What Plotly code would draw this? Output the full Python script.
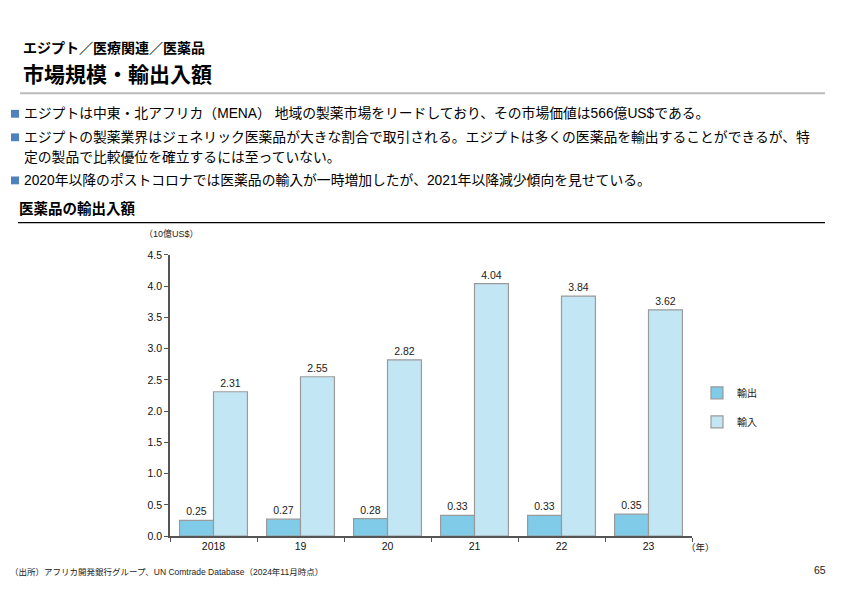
import plotly.graph_objects as go

years = ["2018", "19", "20", "21", "22", "23"]
exports = [0.25, 0.27, 0.28, 0.33, 0.33, 0.35]
imports = [2.31, 2.55, 2.82, 4.04, 3.84, 3.62]
y_ticks = [0.0, 0.5, 1.0, 1.5, 2.0, 2.5, 3.0, 3.5, 4.0, 4.5]

W, H = 842, 595
JP = "Liberation Sans, Noto Sans CJK JP"


def px(x):
    return x / W


def py(y):
    return 1 - y / H


fig = go.Figure()
fig.add_trace(go.Bar(
    x=years, y=exports, name="輸出", legendgroup="a",
    marker=dict(color="#7FCBE8", line=dict(color="#9A9A9A", width=1.2)),
    text=[f"{v:.2f}" for v in exports], textposition="outside",
    textfont=dict(size=10.5, color="#222", family=JP), cliponaxis=False,
))
fig.add_trace(go.Bar(
    x=years, y=imports, name="輸入", legendgroup="b",
    marker=dict(color="#C3E6F4", line=dict(color="#9A9A9A", width=1.2)),
    text=[f"{v:.2f}" for v in imports], textposition="outside",
    textfont=dict(size=10.5, color="#222", family=JP), cliponaxis=False,
))

shapes = [
    dict(type="line", xref="paper", yref="paper", x0=px(20), x1=px(825), y0=py(89), y1=py(89),
         line=dict(color="#BBBBBB", width=2)),
    dict(type="line", xref="paper", yref="paper", x0=px(18), x1=px(825), y0=py(221), y1=py(221),
         line=dict(color="#000000", width=1.2)),
]
bullet_rows = [110, 134, 178]
for by in bullet_rows:
    shapes.append(dict(type="rect", xref="paper", yref="paper", x0=px(11), x1=px(19),
                       y0=py(by + 4), y1=py(by - 4), fillcolor="#4F81BD", line=dict(width=0)))

annotations = [
    dict(text="<b>エジプト／医療関連／医薬品</b>", x=px(21), y=py(43), font=dict(size=14, color="#000")),
    dict(text="<b>市場規模・輸出入額</b>", x=px(21), y=py(70), font=dict(size=21, color="#000")),
    dict(text="エジプトは中東・北アフリカ（MENA） 地域の製薬市場をリードしており、その市場価値は566億US$である。",
         x=px(22), y=py(110), font=dict(size=13.8, color="#000")),
    dict(text="エジプトの製薬業界はジェネリック医薬品が大きな割合で取引される。エジプトは多くの医薬品を輸出することができるが、特",
         x=px(22), y=py(134), font=dict(size=13.8, color="#000")),
    dict(text="定の製品で比較優位を確立するには至っていない。",
         x=px(22), y=py(155), font=dict(size=13.8, color="#000")),
    dict(text="2020年以降のポストコロナでは医薬品の輸入が一時増加したが、2021年以降減少傾向を見せている。",
         x=px(22), y=py(178), font=dict(size=13.8, color="#000")),
    dict(text="<b>医薬品の輸出入額</b>", x=px(17), y=py(207), font=dict(size=14.5, color="#000")),
    dict(text="（10億US$）", x=px(142), y=py(232), font=dict(size=9, color="#222")),
    dict(text="（年）", x=px(684), y=py(553), font=dict(size=9.5, color="#222")),
    dict(text="（出所）アフリカ開発銀行グループ、UN Comtrade Database（2024年11月時点）", x=px(8), y=py(578),
         font=dict(size=8.5, color="#222")),
    dict(text="65", x=px(812), y=py(576), font=dict(size=10.5, color="#222")),
]
for a in annotations:
    a.update(xref="paper", yref="paper", xanchor="left", yanchor="middle", showarrow=False)
    a["font"]["family"] = JP

fig.update_layout(
    width=W, height=H,
    margin=dict(l=0, r=0, t=0, b=0),
    paper_bgcolor="white", plot_bgcolor="white",
    barmode="group", bargap=0.22, bargroupgap=0,
    font=dict(family=JP, color="#222"),
    showlegend=True,
    legend=dict(x=px(697), y=py(380), xanchor="left", yanchor="top",
                font=dict(size=10, color="#222", family=JP), tracegroupgap=10,
                traceorder="grouped", bgcolor="rgba(0,0,0,0)"),
    xaxis=dict(domain=[px(170), px(692)], showline=True, linecolor="#555", linewidth=1.5,
               ticks="outside", tickson="boundaries", ticklen=4, tickcolor="#555",
               tickfont=dict(size=10.5, color="#111", family=JP), showgrid=False),
    yaxis=dict(domain=[py(541), py(254)], range=[0, 4.5], tickvals=y_ticks,
               ticktext=[f"{v:.1f}" for v in y_ticks],
               showline=True, linecolor="#555", linewidth=1.5, ticks="outside", ticklen=4,
               tickcolor="#555", tickfont=dict(size=10.5, color="#111", family=JP), showgrid=False,
               zeroline=False),
    shapes=shapes, annotations=annotations,
)

fig.write_html(
    "out.html",
    config={"displayModeBar": False},
    post_script="document.body.style.margin='0';document.body.style.padding='0';"
                "document.documentElement.style.overflow='hidden';document.body.style.overflow='hidden';",
)
